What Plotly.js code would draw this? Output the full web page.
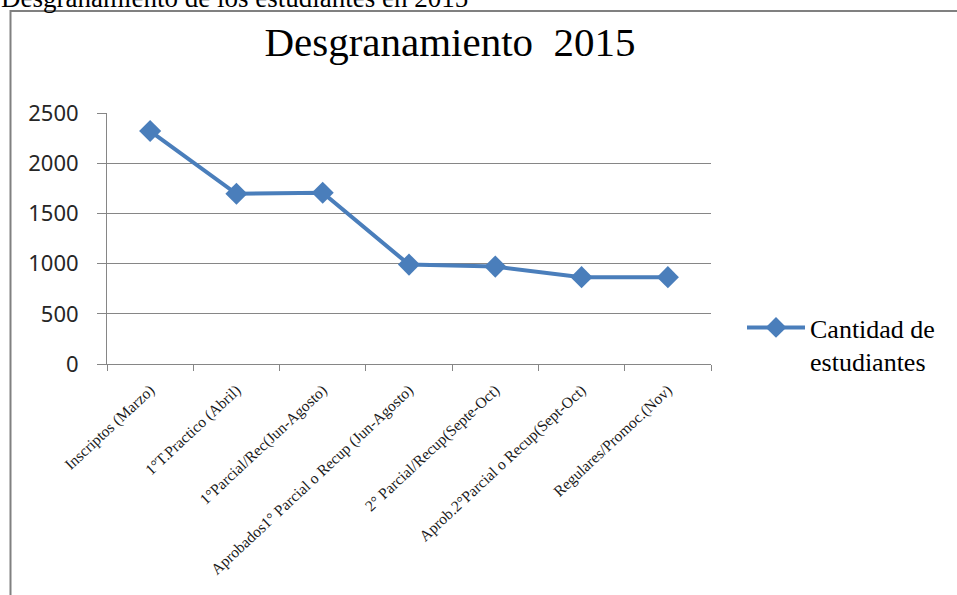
<!DOCTYPE html>
<html><head><meta charset="utf-8">
<script src="https://cdn.plot.ly/plotly-3.0.1.min.js"></script>
<style>body{margin:0;background:#fff}#c{width:957px;height:595px}</style>
</head><body><div id="c"></div>
<script>
const categories = ["Inscriptos (Marzo)", "1°T.Practico (Abril)", "1°Parcial/Rec(Jun-Agosto)", "Aprobados1° Parcial o Recup (Jun-Agosto)", "2° Parcial/Recup(Septe-Oct)", "Aprob.2°Parcial o Recup(Sept-Oct)", "Regulares/Promoc.(Nov)"];
const students = [2320, 1695, 1705, 990, 970, 865, 865];
const seriesName = "Cantidad de<br>estudiantes";
const yTicks = [0, 500, 1000, 1500, 2000, 2500];

const L = 107, R = 711, T = 113, B = 364;
const px = v => (v - L) / (R - L);
const py = v => (B - v) / (B - T);

const trace = {
  x: categories, y: students, type: 'scatter', mode: 'lines+markers', name: seriesName,
  line: {color: '#4a7ebb', width: 4},
  marker: {symbol: 'diamond', size: 17, color: '#4a7ebb'}
};
const layout = {
  width: 957, height: 595,
  margin: {l: L, r: 957 - R, t: T, b: 595 - B},
  paper_bgcolor: '#fff', plot_bgcolor: '#fff',
  title: {text: 'Desgranamiento  2015', font: {family: 'Liberation Serif', size: 41, color: '#000'},
          xref: 'paper', x: px(450), xanchor: 'center', yref: 'container', y: 1 - 42/595, yanchor: 'middle'},
  xaxis: {type: 'category', tickson: 'boundaries', ticks: 'outside', ticklen: 6, tickcolor: '#868686',
          showline: true, linecolor: '#868686', linewidth: 1, showgrid: false, tickangle: -43,
          ticklabelstandoff: 10,
          tickfont: {family: 'Liberation Serif', size: 15.5, color: '#1a1a1a'}, range: [-0.5, 6.5]},
  yaxis: {range: [0, 2500], tickvals: yTicks, ticks: 'outside', ticklen: 9, tickcolor: '#868686',
          showline: true, linecolor: '#868686', gridcolor: '#868686', gridwidth: 1, zeroline: false,
          ticklabelstandoff: 14,
          tickfont: {family: 'Noto Sans', size: 22, color: '#262626'}},
  showlegend: true,
  legend: {x: px(742), y: py(304), xanchor: 'left', yanchor: 'top', itemwidth: 58, valign: 'top',
           font: {family: 'Liberation Serif', size: 26, color: '#000'}, bgcolor: 'rgba(0,0,0,0)'},
  shapes: [
    {type: 'line', xref: 'paper', yref: 'paper', x0: px(10.5), x1: px(10.5), y0: py(10), y1: py(600), line: {color: '#808080', width: 2}},
    {type: 'line', xref: 'paper', yref: 'paper', x0: px(10), x1: px(960), y0: py(11), y1: py(11), line: {color: '#808080', width: 2}}
  ],
  annotations: [
    {text: 'Desgranamiento de los estudiantes en 2015', xref: 'paper', yref: 'paper', x: px(-1), y: py(-2),
     xanchor: 'left', yanchor: 'middle', showarrow: false, font: {family: 'Liberation Serif', size: 27, color: '#000'}}
  ]
};
Plotly.newPlot('c', [trace], layout, {displayModeBar: false});
</script></body></html>
